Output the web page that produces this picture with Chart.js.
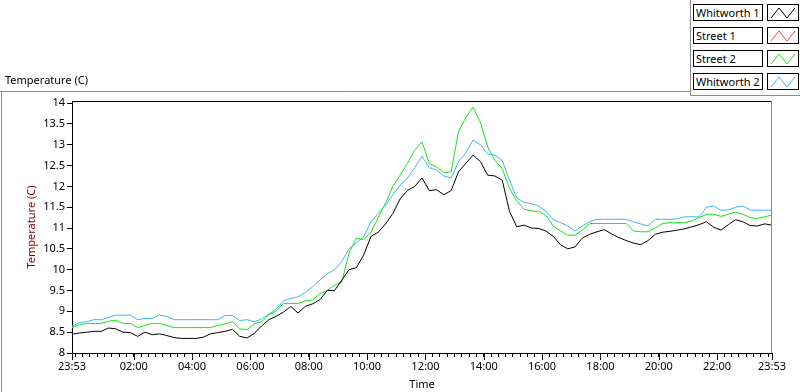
<!DOCTYPE html>
<html>
<head>
<meta charset="utf-8">
<script src="https://cdn.jsdelivr.net/npm/chart.js@4.4.1/dist/chart.umd.min.js"></script>
<style>
body { margin: 0; background: #fff; }
#wrap { position: relative; width: 800px; height: 392px; font-family: "Noto Sans", sans-serif; font-size: 11px; color: #000; }
#plotTitle { position: absolute; left: 5px; top: 72px; }
.legRow { position: absolute; left: 693px; width: 107px; height: 17px; }
.legName { position: absolute; left: 0; top: 0; width: 70px; height: 17px; box-sizing: border-box; border: 1px solid #000; background: #fff; line-height: 15px; padding-left: 2px; white-space: nowrap; }
.legIcon { position: absolute; left: 74px; top: 0; width: 32px; height: 17px; box-sizing: border-box; border: 1px solid #000; background: #fff; }
</style>
</head>
<body>
<div id="wrap">
  <canvas id="tempChart" width="800" height="392"></canvas>
  <div id="plotTitle">Temperature (C)</div>
  <div id="legend"></div>
</div>
<script>
// series names and colours
const seriesNames = ['Whitworth 1', 'Street 1', 'Street 2', 'Whitworth 2'];
const seriesColors = ['#000000', '#ff3b3b', '#14e614', '#3db6f5'];

// readings every 15 minutes starting at 23:53
const whitworth1 = [8.45, 8.48, 8.5, 8.52, 8.52, 8.6, 8.58, 8.5, 8.49, 8.4,
  8.5, 8.44, 8.46, 8.42, 8.37, 8.35, 8.35, 8.35, 8.38, 8.46,
  8.49, 8.52, 8.57, 8.4, 8.36, 8.47, 8.65, 8.8, 8.88, 8.98,
  9.12, 8.96, 9.12, 9.18, 9.28, 9.5, 9.5, 9.75, 10.0, 10.05,
  10.35, 10.8, 10.9, 11.1, 11.35, 11.7, 11.9, 12.0, 12.2, 11.9,
  11.92, 11.8, 11.9, 12.35, 12.55, 12.75, 12.6, 12.27, 12.25, 12.15,
  11.4, 11.03, 11.07, 11.0, 10.99, 10.93, 10.8, 10.6, 10.5, 10.55,
  10.76, 10.85, 10.91, 10.96, 10.86, 10.77, 10.7, 10.64, 10.6, 10.7,
  10.85, 10.9, 10.92, 10.95, 10.98, 11.03, 11.08, 11.15, 11.02, 10.95,
  11.08, 11.2, 11.15, 11.06, 11.05, 11.1, 11.07];
const street1 = [];
const street2 = [8.61, 8.68, 8.71, 8.71, 8.71, 8.76, 8.79, 8.71, 8.71, 8.61,
  8.66, 8.71, 8.71, 8.66, 8.61, 8.61, 8.61, 8.61, 8.61, 8.61,
  8.66, 8.7, 8.75, 8.58, 8.56, 8.7, 8.75, 8.92, 9.0, 9.19,
  9.19, 9.19, 9.25, 9.27, 9.43, 9.5, 9.63, 9.7, 10.4, 10.76,
  10.72, 10.9, 11.25, 11.6, 12.0, 12.27, 12.55, 12.87, 13.07, 12.55,
  12.47, 12.33, 12.35, 13.31, 13.65, 13.9, 13.55, 12.95, 12.62, 12.43,
  11.95, 11.65, 11.45, 11.41, 11.4, 11.3, 11.05, 10.93, 10.83, 10.83,
  10.95, 11.11, 11.11, 11.11, 11.11, 11.11, 11.11, 10.93, 10.91, 10.91,
  11.0, 11.11, 11.13, 11.13, 11.13, 11.17, 11.25, 11.33, 11.33, 11.28,
  11.33, 11.38, 11.33, 11.25, 11.23, 11.27, 11.31];
const whitworth2 = [8.64, 8.73, 8.75, 8.8, 8.8, 8.85, 8.91, 8.91, 8.91, 8.8,
  8.83, 8.83, 8.91, 8.88, 8.8, 8.8, 8.8, 8.8, 8.8, 8.8,
  8.8, 8.9, 8.9, 8.78, 8.8, 8.75, 8.82, 8.93, 9.05, 9.25,
  9.31, 9.35, 9.45, 9.59, 9.75, 9.9, 10.0, 10.2, 10.5, 10.65,
  10.79, 11.15, 11.35, 11.55, 11.8, 12.03, 12.2, 12.45, 12.72, 12.45,
  12.39, 12.25, 12.2, 12.59, 12.8, 13.11, 13.0, 12.78, 12.75, 12.62,
  12.15, 11.72, 11.62, 11.58, 11.53, 11.4, 11.2, 11.13, 11.05, 10.93,
  11.05, 11.15, 11.21, 11.21, 11.21, 11.21, 11.21, 11.15, 11.1, 11.05,
  11.21, 11.21, 11.21, 11.22, 11.27, 11.27, 11.27, 11.5, 11.53, 11.43,
  11.43, 11.5, 11.53, 11.43, 11.43, 11.43, 11.43];

const sampleMinutes = whitworth1.map((_, i) => i * 15);
const yTickValues = [8, 8.5, 9, 9.5, 10, 10.5, 11, 11.5, 12, 12.5, 13, 13.5, 14];
const startClock = 23 * 60 + 53;

// x ticks: 23:53, then every quarter hour, then 23:53 again
const xTickMinutes = [0];
for (let m = 7; m < 1440; m += 15) xTickMinutes.push(m);
xTickMinutes.push(1440);

function isMajor(m) {
    return m === 0 || m === 1440 || (m > 7 && (m - 7) % 120 === 0);
}

function clockLabel(m) {
    const t = (startClock + m) % 1440;
    const h = Math.floor(t / 60), mm = t % 60;
    return String(h).padStart(2, '0') + ':' + String(mm).padStart(2, '0');
}

const allSeries = [whitworth1, street1, street2, whitworth2];

// legend
const legend = document.getElementById('legend');
seriesNames.forEach((name, i) => {
    const row = document.createElement('div');
    row.className = 'legRow';
    row.style.top = (4 + i * 23) + 'px';
    row.innerHTML = '<div class="legName">' + name + '</div>' +
        '<div class="legIcon"><svg width="30" height="15"><polyline points="3,13 11,3 19,13 27,3" fill="none" stroke="' +
        seriesColors[i] + '" stroke-width="1"/></svg></div>';
    legend.appendChild(row);
});

const framePlugin = {
    id: 'frame',
    beforeDraw(chart) {
        const c = chart.ctx;
        c.save();
        c.fillStyle = '#fff';
        c.fillRect(0, 0, chart.width, chart.height);
        c.strokeStyle = '#8c8c8c';
        c.lineWidth = 1;
        c.beginPath();
        c.moveTo(0, 91.5); c.lineTo(690.5, 91.5);
        c.moveTo(1.5, 91.5); c.lineTo(1.5, 392);
        c.moveTo(690.5, 0); c.lineTo(690.5, 95.5); c.lineTo(800, 95.5);
        c.stroke();
        c.restore();
    },
    afterDatasetsDraw(chart) {
        const a = chart.chartArea, c = chart.ctx;
        const xs = chart.scales.x;
        c.save();
        c.lineWidth = 1;
        c.strokeStyle = '#000';
        c.beginPath();
        c.moveTo(a.left, Math.round(a.top) + 0.5); c.lineTo(a.right, Math.round(a.top) + 0.5);
        // longer marks for the labelled ticks
        xTickMinutes.filter(isMajor).forEach(m => {
            const px = Math.round(xs.getPixelForValue(m)) + 0.5;
            c.moveTo(px, a.bottom); c.lineTo(px, a.bottom + 7);
        });
        c.stroke();
        c.strokeStyle = '#8c8c8c';
        c.beginPath();
        c.moveTo(Math.round(a.right) - 0.5, a.top); c.lineTo(Math.round(a.right) - 0.5, a.bottom);
        c.stroke();
        c.restore();
    }
};

const ctx = document.getElementById('tempChart').getContext('2d');
const tempChart = new Chart(ctx, {
    type: 'line',
    data: {
        datasets: allSeries.map((vals, i) => ({
            label: seriesNames[i],
            data: vals.map((v, j) => ({ x: sampleMinutes[j], y: v })),
            borderColor: seriesColors[i],
            borderWidth: 1,
            pointRadius: 0,
            tension: 0,
            fill: false
        }))
    },
    options: {
        responsive: false,
        animation: false,
        layout: { padding: { top: 101, right: 28, left: 0, bottom: 0 } },
        plugins: { legend: { display: false }, tooltip: { enabled: false } },
        scales: {
            x: {
                type: 'linear',
                min: 0,
                max: 1440,
                afterFit(scale) { scale.height = 39; },
                afterBuildTicks(scale) { scale.ticks = xTickMinutes.map(v => ({ value: v })); },
                ticks: {
                    autoSkip: false,
                    maxRotation: 0,
                    padding: 3,
                    color: '#000',
                    font: { family: 'Noto Sans', size: 11 },
                    callback(v) { return isMajor(v) ? clockLabel(v) : ''; }
                },
                grid: { drawOnChartArea: false, tickLength: 4, tickColor: '#000', tickWidth: 1 },
                border: { color: '#000' },
                title: {
                    display: true, text: 'Time', color: '#000',
                    font: { family: 'Noto Sans', size: 11 },
                    padding: { top: 0, bottom: 1 }
                }
            },
            y: {
                min: 8,
                max: 14.05,
                afterFit(scale) { scale.width = 72; },
                afterBuildTicks(scale) { scale.ticks = yTickValues.map(v => ({ value: v })); },
                ticks: {
                    padding: 2,
                    color: '#000',
                    font: { family: 'Noto Sans', size: 11 },
                    callback: v => String(v)
                },
                grid: { drawOnChartArea: false, tickLength: 5, tickColor: '#000' },
                border: { color: '#000' },
                title: {
                    display: true, text: 'Temperature (C)', color: '#800000',
                    font: { family: 'Noto Sans', size: 11 },
                    padding: { top: 25, bottom: 0 }
                }
            }
        }
    },
    plugins: [framePlugin]
});
</script>
</body>
</html>
